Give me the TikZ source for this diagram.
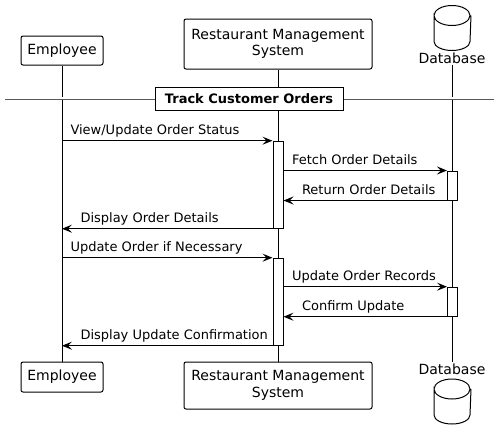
\documentclass[tikz,border=0pt]{standalone}
\usepackage{fontspec}
\setmainfont{DejaVu Sans}
\usetikzlibrary{arrows.meta,positioning}
% drum outline drawn round an empty node
\newcommand{\drum}[1]{
	\draw ([yshift=-10pt]#1.north west)
		arc[start angle=180, end angle=-180, x radius=18pt, y radius=10pt]
		-- ([yshift=9pt]#1.south west)
		arc[start angle=180, end angle=360, x radius=18pt, y radius=9pt]
		-- ([yshift=-10pt]#1.north east);
}
\tikzset{
	every node/.style={font=\fontsize{13}{15}\selectfont},
	party/.style={
		draw,
		rounded corners=2pt,
		align=center,
		inner sep=0pt,
		font=\fontsize{14}{16.5}\selectfont
	},
	store/.style={minimum width=36pt, minimum height=44pt, inner sep=0pt},
	storelabel/.style={inner sep=0pt, font=\fontsize{14}{16.5}\selectfont},
	activ/.style={draw, fill=white, minimum width=10pt, inner sep=0pt},
	msg/.style={draw, -{Stealth[length=10pt,width=8pt,inset=4pt]}},
	fwd/.style={anchor=base west, inner sep=0pt, xshift=8pt, yshift=6pt},
	back/.style={anchor=base west, inner sep=0pt, xshift=18pt, yshift=6pt},
	divider/.style={draw, fill=white, inner sep=0pt, minimum width=188pt,
		minimum height=23pt, font=\bfseries\fontsize{13}{15}\selectfont}
}

\begin{document}
\begin{tikzpicture}[x=1pt, y=-1pt, line width=1pt]
	\useasboundingbox (0,0) rectangle (499,440);
	% participants, top row
	\node[party, minimum width=82pt, minimum height=29pt] (emptop) at (62,50.5) {Employee};
	\node[party, minimum width=188pt, minimum height=50pt] (rmstop) at (278,44) {Restaurant Management\\System};
	\node[store] (dbtop) at (452.5,28) {};
	\drum{dbtop}
	\node[storelabel] (dbname) at (452,58.5) {Database};
	% participants, bottom row
	\node[party, minimum width=82pt, minimum height=30pt] (empbot) at (62,377) {Employee};
	\node[party, minimum width=188pt, minimum height=47pt] (rmsbot) at (278,385.5) {Restaurant Management\\System};
	\node[storelabel] (dbnamebot) at (452,369) {Database};
	\node[store] (dbbot) at (452.5,401.5) {};
	\drum{dbbot}
	% lifelines
	\draw (dbname.south) ++(0,0.5) -- ([yshift=1pt]dbnamebot.north);
	\draw (emptop) -- (empbot);
	\draw (rmstop) -- (rmsbot);
	% group divider
	\coordinate (divl) at (5,98.3);
	\coordinate (divr) at (494,98.3);
	\draw[black!65, double, double distance=1.8pt, line width=0.8pt] (divl) -- (divr);
	\node[divider] (track) at (249,98.8) {Track Customer Orders};
	% activations
	\node[activ, minimum height=87pt] (act1) at (278,184.7) {};
	\node[activ, minimum height=87pt] (act2) at (278,301.7) {};
	\node[activ, minimum height=29pt] (dbact1) at (452.5,185.5) {};
	\node[activ, minimum height=29pt] (dbact2) at (452.5,301.7) {};
	% messages
	\draw[msg] (emptop |- act1.north) -- node[fwd, pos=0] {View/Update Order Status} (act1.north west);
	\draw[msg] (act1.east |- dbact1.north) -- node[fwd, pos=0] {Fetch Order Details} (dbact1.north west);
	\draw[msg] (dbact1.south west) -- node[back, pos=1] {Return Order Details} (act1.east |- dbact1.south);
	\draw[msg] (act1.south west) -- node[back, pos=1] {Display Order Details} (emptop |- act1.south);
	\draw[msg] (emptop |- act2.north) -- node[fwd, pos=0] {Update Order if Necessary} (act2.north west);
	\draw[msg] (act2.east |- dbact2.north) -- node[fwd, pos=0] {Update Order Records} (dbact2.north west);
	\draw[msg] (dbact2.south west) -- node[back, pos=1] {Confirm Update} (act2.east |- dbact2.south);
	\draw[msg] (act2.south west) -- node[back, pos=1] {Display Update Confirmation} (emptop |- act2.south);
\end{tikzpicture}
\end{document}
